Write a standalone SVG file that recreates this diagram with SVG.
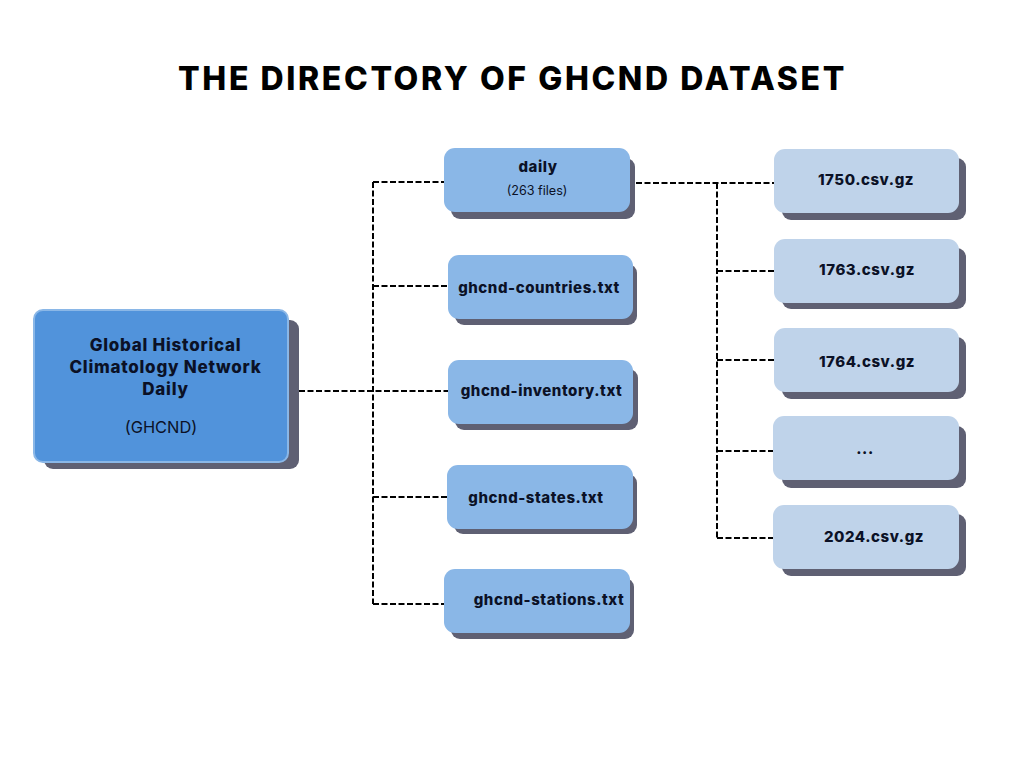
<svg xmlns="http://www.w3.org/2000/svg" width="1024" height="768" viewBox="0 0 1024 768">
<style>
text{font-family:Inter,"Liberation Sans",sans-serif;fill:#0b1126;text-anchor:middle}
.b{font-weight:800;font-size:15px;letter-spacing:.55px}
.r{font-size:17px;letter-spacing:.75px}
.sh{fill:#5f6073}
.mid{fill:#8ab7e7}
.file{fill:#bfd3ea}
.c{fill:none;stroke:#000;stroke-width:2;stroke-dasharray:6 2.5}
</style>
<rect width="1024" height="768" fill="#fff"/>
<text id="title" x="512.5" y="90" style="font-size:32px;font-weight:800;letter-spacing:2.6px;fill:#000">THE DIRECTORY OF GHCND DATASET</text>
<g id="connectors">
<path class="c" d="M299 391H448"/>
<path class="c" d="M373 182H444"/>
<path class="c" d="M373 286H448"/>
<path class="c" d="M373 497H448"/>
<path class="c" d="M373 604H444"/>
<path class="c" d="M373 182V604"/>
<path class="c" d="M636 183H774"/>
<path class="c" d="M717 271H774"/>
<path class="c" d="M717 360H774"/>
<path class="c" d="M717 451H773"/>
<path class="c" d="M717 538H773"/>
<path class="c" d="M717 183V538"/>
</g>
<g id="root">
<rect class="sh" x="44" y="320" width="255" height="149" rx="9"/>
<rect x="34" y="310" width="254" height="152" rx="9" fill="#5193db" stroke="#8ab7e7" stroke-width="2"/>
<text class="b r" x="165.5" y="351">Global Historical</text>
<text class="b r" x="165.5" y="373">Climatology Network</text>
<text class="b r" x="165.5" y="395">Daily</text>
<text x="161" y="433" style="font-size:16.4px">(GHCND)</text>
</g>
<g id="daily">
<rect class="sh" x="451" y="158" width="184" height="61" rx="9"/>
<rect class="mid" x="444" y="148" width="186" height="64" rx="11"/>
<text class="b" x="538" y="172">daily</text>
<text x="537" y="195" style="font-size:12.6px">(263 files)</text>
</g>
<g id="countries">
<rect class="sh" x="455" y="264" width="182" height="61" rx="9"/>
<rect class="mid" x="448" y="255" width="185" height="64" rx="11"/>
<text class="b" x="539" y="293">ghcnd-countries.txt</text>
</g>
<g id="inventory">
<rect class="sh" x="455" y="369" width="183" height="61" rx="9"/>
<rect class="mid" x="448" y="360" width="185" height="64" rx="11"/>
<text class="b" x="541.5" y="396">ghcnd-inventory.txt</text>
</g>
<g id="states">
<rect class="sh" x="454" y="474" width="183" height="60" rx="9"/>
<rect class="mid" x="447" y="465" width="186" height="64" rx="11"/>
<text class="b" x="536" y="503">ghcnd-states.txt</text>
</g>
<g id="stations">
<rect class="sh" x="451" y="578" width="183" height="61" rx="9"/>
<rect class="mid" x="444" y="569" width="186" height="64" rx="11"/>
<text class="b" x="549" y="605">ghcnd-stations.txt</text>
</g>
<g id="f1750">
<rect class="sh" x="782" y="158" width="184" height="62" rx="9"/>
<rect class="file" x="774" y="149" width="185" height="64" rx="11"/>
<text class="b" x="866" y="185">1750.csv.gz</text>
</g>
<g id="f1763">
<rect class="sh" x="782" y="248" width="184" height="61" rx="9"/>
<rect class="file" x="774" y="239" width="185" height="64" rx="11"/>
<text class="b" x="867" y="275">1763.csv.gz</text>
</g>
<g id="f1764">
<rect class="sh" x="782" y="337" width="184" height="62" rx="9"/>
<rect class="file" x="774" y="328" width="185" height="64" rx="11"/>
<text class="b" x="867" y="367">1764.csv.gz</text>
</g>
<g id="ellipsis">
<rect class="sh" x="782" y="426" width="184" height="62" rx="9"/>
<rect class="file" x="773" y="416" width="186" height="64" rx="11"/>
<text class="b" x="865" y="454">...</text>
</g>
<g id="f2024">
<rect class="sh" x="782" y="514" width="184" height="62" rx="9"/>
<rect class="file" x="773" y="505" width="186" height="64" rx="11"/>
<text class="b" x="874" y="542">2024.csv.gz</text>
</g>
</svg>
